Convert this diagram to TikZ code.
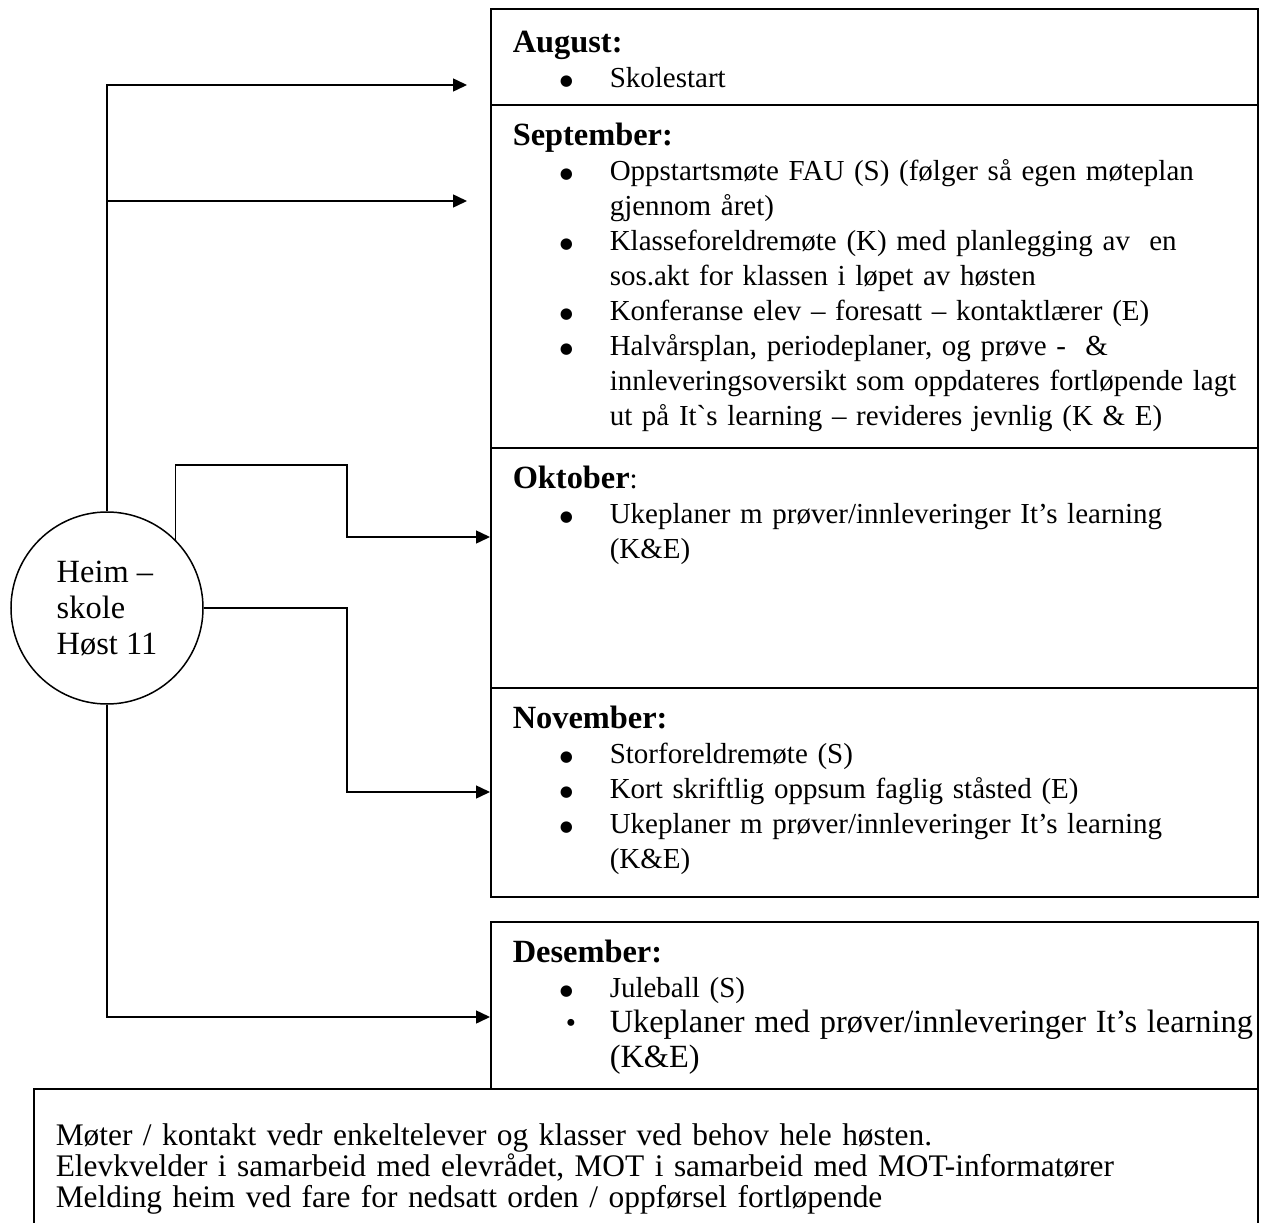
\documentclass[tikz,border=0pt]{standalone}
\usepackage{fontspec}
\setmainfont{Liberation Serif}
\newfontfamily\symfont{DejaVu Sans}
\usetikzlibrary{positioning, arrows.meta}
\setlength{\parindent}{0pt}
\hyphenpenalty=10000

% one bullet line with hanging indent
\newcommand{\prikk}{\raisebox{2pt}{\symfont\fontsize{15}{15}\selectfont ●}}
\newcommand{\punkt}[2][\prikk]{\par\hangindent=97pt\hangafter=1\noindent\hbox to 97pt{\hskip 47pt #1\hfil}#2\par}
% month name
\newcommand{\mnavn}[1]{{\fontsize{32.4}{35}\selectfont\bfseries #1}}

\begin{document}
\begin{tikzpicture}[x=1pt, y=-1pt, node distance=0pt, >={Triangle[length=14pt,width=13pt]}, line width=1.5pt,
    mnd/.style={draw, rectangle, minimum width=767pt, inner sep=0pt, outer sep=0pt, anchor=north west},
    mtxt/.style={anchor=north west, text width=790pt, align=left, inner xsep=21pt, inner ysep=17pt, font=\fontsize{29}{35}\selectfont}]
      \useasboundingbox (0,0) rectangle (1262,1223);

      % Month boxes
      \node[mnd, minimum height=96pt] (aug) at (491,9) {};
      \node[mnd, minimum height=343pt, below=of aug] (sep) {};
      \node[mnd, minimum height=240pt, below=of sep] (okt) {};
      \node[mnd, minimum height=209pt, below=of okt] (nov) {};
      \node[mnd, minimum height=167pt, below=25pt of nov] (des) {};
      \node[draw, anchor=north east, outer sep=0pt, minimum width=1224pt, minimum height=160pt, inner sep=0pt] (fot) at (des.south east) {};

      % Texts in the boxes
      \node[mtxt, yshift=-4pt] (augtxt) at (aug.north west) {\mnavn{August:}
        \punkt{Skolestart}};
      \node[mtxt] (septxt) at (sep.north west) {\mnavn{September:}
        \punkt{Oppstartsmøte FAU (S) (følger så egen møteplan\newline gjennom året)}
        \punkt{Klasseforeldremøte (K) med planlegging av\ \ en\newline sos.akt for klassen i løpet av høsten}
        \punkt{Konferanse elev – foresatt – kontaktlærer (E)}
        \punkt{Halvårsplan, periodeplaner, og prøve -\ \ \&\newline innleveringsoversikt som oppdateres fortløpende lagt\newline ut på It\textasciigrave s learning – revideres jevnlig (K \& E)}};
      \node[mtxt] (okttxt) at (okt.north west) {\mnavn{Oktober}:
        \punkt{Ukeplaner m prøver/innleveringer It’s learning\newline (K\&E)}};
      \node[mtxt] (novtxt) at (nov.north west) {\mnavn{November:}
        \punkt{Storforeldremøte (S)}
        \punkt{Kort skriftlig oppsum faglig ståsted (E)}
        \punkt{Ukeplaner m prøver/innleveringer It’s learning\newline (K\&E)}};
      \node[mtxt] (destxt) at (des.north west) {\mnavn{Desember:}
        \punkt{Juleball (S)}
        \punkt[\hskip 6pt\textbullet]{{\fontsize{32.4}{35}\selectfont Ukeplaner med prøver/innleveringer It’s learning\newline (K\&E)}}};
      \node[anchor=north west, text width=1190pt, align=left, inner xsep=21pt, inner ysep=34pt, font=\fontsize{31.4}{31}\selectfont] (fottxt) at (fot.north west) {Møter / kontakt vedr enkeltelever og klasser ved behov hele høsten.\\
        Elevkvelder i samarbeid med elevrådet, MOT i samarbeid med MOT-informatører\\
        Melding heim ved fare for nedsatt orden / oppførsel fortløpende};

      % Centre circle
      \node[draw, circle, minimum size=192pt, inner sep=0pt, align=left, font=\fontsize{32.4}{36}\selectfont] (heim) at (107,608) {Heim –\\ skole\\ Høst 11};

      % Arrow ends
      \coordinate (augpil) at (467,85);
      \coordinate (seppil) at (467,201);
      \coordinate (oktpil) at (490,537);
      \coordinate (novpil) at (490,792);
      \coordinate (despil) at (490,1017);

      % Connections
      \draw[->] (heim.north) |- (augpil);
      \draw[->] (heim.north |- seppil) -- (seppil);
      \draw[->] (heim.45) |- ([xshift=-143pt, yshift=72pt]oktpil) |- (oktpil);
      \draw[->] (heim.east) -| ([xshift=-143pt]novpil) -- (novpil);
      \draw[->] (heim.south) |- (despil);
\end{tikzpicture}
\end{document}
